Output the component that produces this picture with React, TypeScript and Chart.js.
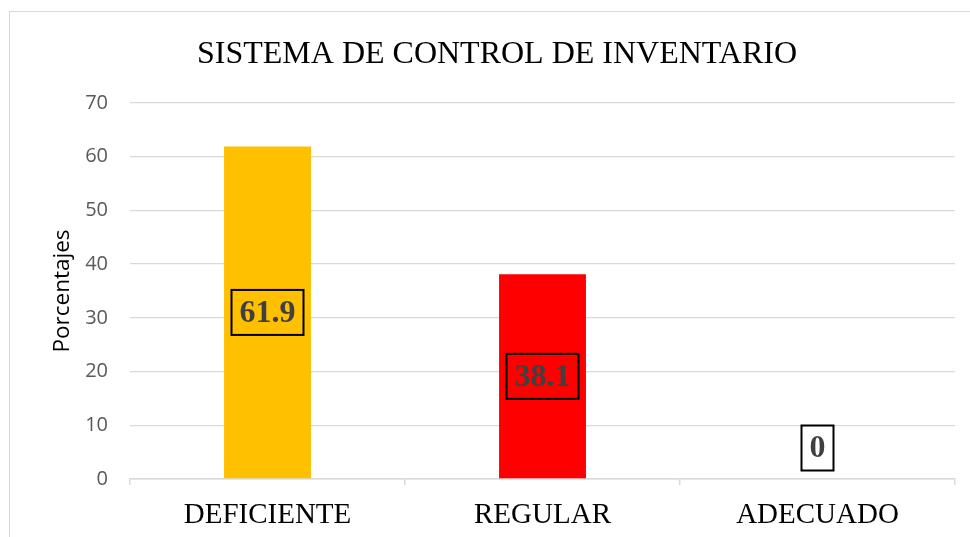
import React, { useEffect, useRef } from "react";
import { Chart, registerables } from "chart.js";

Chart.register(...registerables);

const categories = ["DEFICIENTE", "REGULAR", "ADECUADO"];
const values = [61.9, 38.1, 0];
const barColors = ["#FFC000", "#FF0000", "#A5A5A5"];
const yTicks = { min: 0, max: 70, step: 10 };
const chartTitle = "SISTEMA DE CONTROL DE INVENTARIO";
const yTitle = "Porcentajes";

const titlePlugin = {
  id: "manualTitle",
  afterDraw(chart: any) {
    const ctx = chart.ctx;
    ctx.save();
    ctx.font = '32px "Liberation Serif"';
    ctx.fillStyle = "#000000";
    ctx.textAlign = "center";
    ctx.textBaseline = "alphabetic";
    ctx.fillText(chartTitle, 497, 63);
    ctx.restore();
  },
};

const boxLabelPlugin = {
  id: "boxLabels",
  afterDatasetsDraw(chart: any) {
    const ctx = chart.ctx;
    const meta = chart.getDatasetMeta(0);
    const zero = chart.scales.y.getPixelForValue(0);
    ctx.save();
    ctx.font = 'bold 32px "Liberation Serif"';
    meta.data.forEach((bar: any, i: number) => {
      const text = String(values[i]);
      const tw = ctx.measureText(text).width;
      const w = tw + 16;
      const h = 45;
      const p = bar.getProps(["x", "y", "base"], true);
      let cy = (p.y + p.base) / 2;
      if (p.base - p.y < h + 10) cy = zero - 31;
      ctx.fillStyle = "#404040";
      ctx.textAlign = "center";
      ctx.textBaseline = "middle";
      ctx.fillText(text, p.x, cy + 1);
      ctx.lineWidth = 2;
      ctx.strokeStyle = "#000000";
      ctx.strokeRect(p.x - w / 2, cy - h / 2, w, h);
    });
    ctx.restore();
  },
};

export default function App() {
  const ref = useRef<HTMLCanvasElement | null>(null);

  useEffect(() => {
    if (!ref.current) return;
    const chart = new Chart(ref.current, {
      type: "bar",
      data: {
        labels: categories,
        datasets: [
          {
            data: values,
            backgroundColor: barColors,
            borderWidth: 0,
            categoryPercentage: 1,
            barPercentage: 0.316,
          },
        ],
      },
      options: {
        responsive: false,
        animation: false,
        devicePixelRatio: 1,
        layout: { padding: { left: 0, right: 15, top: 103, bottom: 0 } },
        plugins: {
          legend: { display: false },
          tooltip: { enabled: false },
          title: { display: false },
        },
        scales: {
          x: {
            grid: {
              display: true,
              drawOnChartArea: false,
              drawTicks: true,
              tickLength: 6,
              color: "#D9D9D9",
              lineWidth: 1.5,
              offset: true,
            },
            border: { display: true, color: "#D9D9D9", width: 1.5 },
            ticks: {
              color: "#000000",
              font: { family: "Liberation Serif", size: 29 },
              padding: 13,
              maxRotation: 0,
            },
            afterFit: (s: any) => {
              s.height = 58;
            },
          },
          y: {
            min: yTicks.min,
            max: yTicks.max,
            ticks: {
              stepSize: yTicks.step,
              color: "#595959",
              font: { family: "Open Sans", size: 20 },
              padding: 22,
            },
            grid: { color: "#D9D9D9", lineWidth: 1.3, drawTicks: false },
            border: { display: false },
            title: {
              display: true,
              text: yTitle,
              color: "#000000",
              font: { family: "Open Sans", size: 22.5, lineHeight: 1.2 },
              padding: { top: 49, bottom: 0 },
            },
            afterFit: (s: any) => {
              s.width = 130;
            },
          },
        },
      },
      plugins: [boxLabelPlugin, titlePlugin],
    } as any);
    return () => chart.destroy();
  }, []);

  return (
    <div
      style={{
        position: "fixed",
        left: 0,
        top: 0,
        width: 970,
        height: 537,
        background: "#ffffff",
        overflow: "hidden",
      }}
    >
      <canvas ref={ref} width={970} height={537} style={{ display: "block" }} />
      <div
        style={{
          position: "absolute",
          left: 9,
          top: 11,
          width: 980,
          height: 560,
          border: "1.5px solid #D9D9D9",
          pointerEvents: "none",
        }}
      />
    </div>
  );
}
